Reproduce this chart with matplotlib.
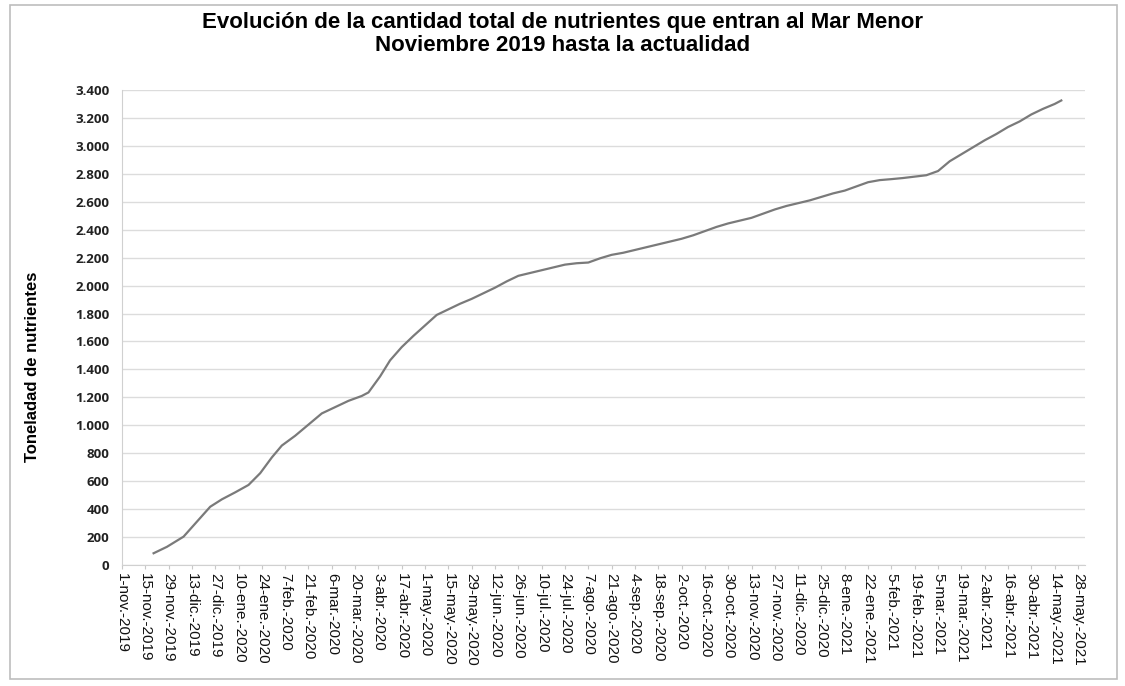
import numpy as np
import pandas as pd
import matplotlib
matplotlib.use('Agg')
import matplotlib.pyplot as plt
import matplotlib.dates as mdates
from matplotlib.ticker import FuncFormatter
from matplotlib.patches import Rectangle

# values (days counted from 1-nov-2019)
start = pd.Timestamp('2019-11-01')
days = [19, 27, 37, 45, 53, 60, 68, 76, 83, 90, 96, 104, 112, 120, 128, 136,
        144, 148, 155, 161, 168, 175, 182, 189, 196, 203, 210, 217, 224, 231,
        238, 245, 252, 259, 266, 273, 280, 287, 294, 301, 308, 315, 322, 329,
        336, 343, 350, 357, 364, 371, 378, 385, 392, 399, 406, 413, 420, 427,
        434, 441, 448, 455, 462, 469, 476, 483, 490, 497, 504, 511, 518, 525,
        532, 539, 546, 553, 560, 564]
toneladas = [84, 130, 203, 310, 417, 470, 520, 573, 657, 770, 855, 925, 1005,
             1085, 1130, 1175, 1210, 1235, 1350, 1465, 1560, 1640, 1715, 1790,
             1830, 1870, 1905, 1945, 1985, 2030, 2070, 2090, 2110, 2130, 2150,
             2160, 2165, 2195, 2220, 2235, 2255, 2275, 2295, 2315, 2335, 2360,
             2390, 2420, 2445, 2465, 2485, 2515, 2545, 2570, 2590, 2610, 2635,
             2660, 2680, 2710, 2740, 2755, 2762, 2770, 2780, 2790, 2820, 2890,
             2940, 2990, 3040, 3085, 3135, 3175, 3225, 3265, 3300, 3325]
fechas = start + pd.to_timedelta(days, unit='D')

meses = ['ene', 'feb', 'mar', 'abr', 'may', 'jun', 'jul', 'ago', 'sep', 'oct', 'nov', 'dic']
ticks = pd.date_range('2019-11-01', '2021-05-28', freq='14D')
yticks = np.arange(0, 3401, 200)

fig = plt.figure(figsize=(11.25, 6.86), dpi=100)
ax = fig.add_axes([0.1084, 0.1764, 0.8557, 0.6924])

ax.plot(fechas, toneladas, color='#7a7a7a', lw=1.6)

ax.set_xlim(start, start + pd.Timedelta(days=578))
ax.set_ylim(0, 3400)
ax.set_xticks(ticks)
ax.xaxis.set_major_formatter(FuncFormatter(
    lambda v, p: '{}-{}.-{}'.format(mdates.num2date(v).day, meses[mdates.num2date(v).month - 1], mdates.num2date(v).year)))
ax.set_yticks(yticks)
ax.yaxis.set_major_formatter(FuncFormatter(lambda v, p: '{:,.0f}'.format(v).replace(',', '.')))

for lab in ax.get_xticklabels():
    lab.set_rotation(270)
    lab.set_fontsize(11)
    lab.set_fontfamily('Liberation Sans')
    lab.set_color('#111111')
for lab in ax.get_yticklabels():
    lab.set_fontsize(9.5)
    lab.set_fontweight('bold')
    lab.set_fontfamily('Open Sans')
    lab.set_color('#222222')

ax.grid(axis='y', color='#dcdcdc', lw=1)
ax.set_axisbelow(True)
for s in ['top', 'right']:
    ax.spines[s].set_visible(False)
ax.spines['left'].set_color('#d0d0d0')
ax.spines['bottom'].set_color('#d0d0d0')
ax.tick_params(axis='x', length=3, color='#c8c8c8', pad=3)
ax.tick_params(axis='y', length=0, pad=9)

ax.set_ylabel('Toneladad de nutrientes', fontsize=12, fontweight='bold',
              family='Liberation Sans')
ax.yaxis.set_label_coords(-0.085, 0.417)

fig.text(0.5, 0.959, 'Evolución de la cantidad total de nutrientes que entran al Mar Menor',
         ha='center', va='baseline', fontsize=16, fontweight='bold', family='Liberation Sans')
fig.text(0.5, 0.926, 'Noviembre 2019 hasta la actualidad',
         ha='center', va='baseline', fontsize=16, fontweight='bold', family='Liberation Sans')

fig.patches.append(Rectangle((0.009, 0.01), 0.984, 0.982, transform=fig.transFigure,
                             fill=False, edgecolor='#bdbdbd', lw=1.2))

fig.savefig('out.png', dpi=100)
